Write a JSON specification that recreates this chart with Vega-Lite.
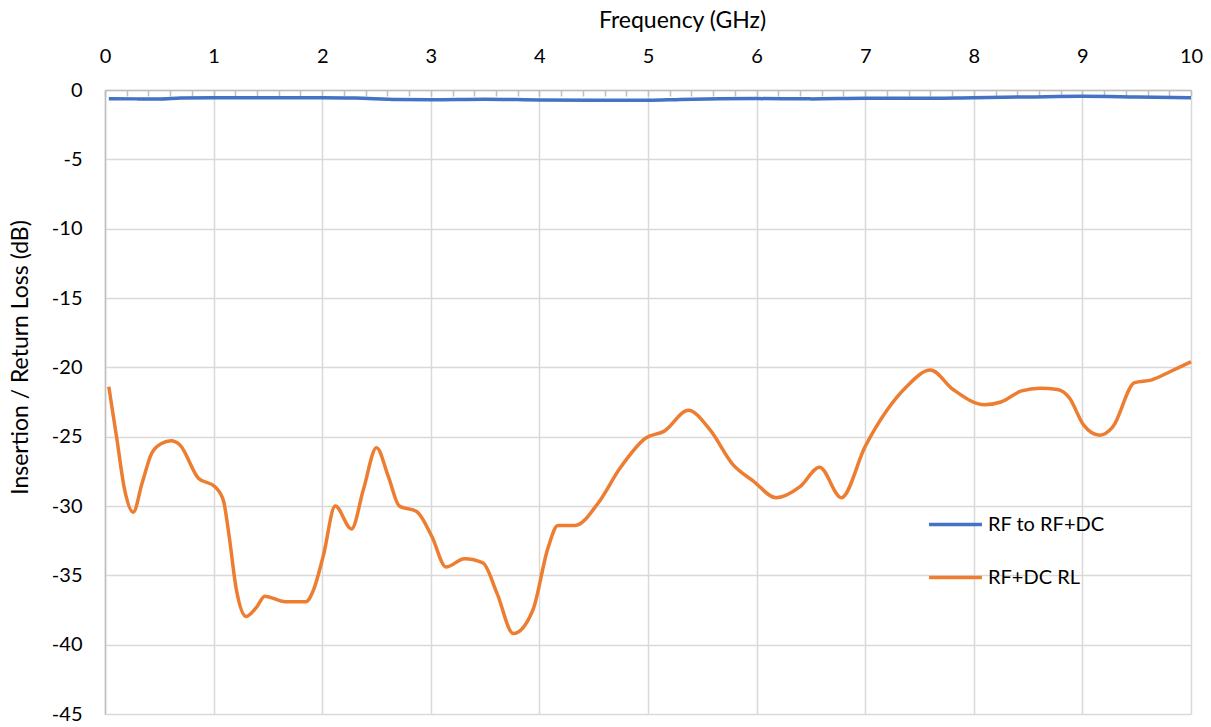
{
  "$schema": "https://vega.github.io/schema/vega-lite/v6.json",
  "width": 1086,
  "height": 624,
  "autosize": {"type": "none"},
  "padding": {"left": 105, "top": 90, "right": 20, "bottom": 13},
  "background": "white",
  "config": {
    "font": "Lato",
    "view": {"stroke": null}
  },
  "data": {
    "values": [
      {"f": 0.035, "v": -0.63, "s": "RF to RF+DC"},
      {"f": 0.3, "v": -0.64, "s": "RF to RF+DC"},
      {"f": 0.5, "v": -0.64, "s": "RF to RF+DC"},
      {"f": 0.7, "v": -0.57, "s": "RF to RF+DC"},
      {"f": 1.0, "v": -0.55, "s": "RF to RF+DC"},
      {"f": 1.5, "v": -0.56, "s": "RF to RF+DC"},
      {"f": 2.0, "v": -0.55, "s": "RF to RF+DC"},
      {"f": 2.3, "v": -0.58, "s": "RF to RF+DC"},
      {"f": 2.7, "v": -0.69, "s": "RF to RF+DC"},
      {"f": 3.0, "v": -0.7, "s": "RF to RF+DC"},
      {"f": 3.5, "v": -0.66, "s": "RF to RF+DC"},
      {"f": 4.0, "v": -0.72, "s": "RF to RF+DC"},
      {"f": 4.5, "v": -0.74, "s": "RF to RF+DC"},
      {"f": 5.0, "v": -0.74, "s": "RF to RF+DC"},
      {"f": 5.3, "v": -0.68, "s": "RF to RF+DC"},
      {"f": 6.0, "v": -0.62, "s": "RF to RF+DC"},
      {"f": 6.5, "v": -0.64, "s": "RF to RF+DC"},
      {"f": 7.0, "v": -0.6, "s": "RF to RF+DC"},
      {"f": 7.5, "v": -0.6, "s": "RF to RF+DC"},
      {"f": 8.0, "v": -0.55, "s": "RF to RF+DC"},
      {"f": 8.5, "v": -0.5, "s": "RF to RF+DC"},
      {"f": 9.0, "v": -0.45, "s": "RF to RF+DC"},
      {"f": 9.5, "v": -0.5, "s": "RF to RF+DC"},
      {"f": 10.0, "v": -0.56, "s": "RF to RF+DC"},
      {"f": 0.035, "v": -21.4, "s": "RF+DC RL"},
      {"f": 0.11, "v": -25.2, "s": "RF+DC RL"},
      {"f": 0.18, "v": -28.8, "s": "RF+DC RL"},
      {"f": 0.26, "v": -30.45, "s": "RF+DC RL"},
      {"f": 0.34, "v": -28.4, "s": "RF+DC RL"},
      {"f": 0.43, "v": -26.2, "s": "RF+DC RL"},
      {"f": 0.52, "v": -25.5, "s": "RF+DC RL"},
      {"f": 0.61, "v": -25.3, "s": "RF+DC RL"},
      {"f": 0.69, "v": -25.6, "s": "RF+DC RL"},
      {"f": 0.86, "v": -28.0, "s": "RF+DC RL"},
      {"f": 1.01, "v": -28.6, "s": "RF+DC RL"},
      {"f": 1.09, "v": -29.6, "s": "RF+DC RL"},
      {"f": 1.14, "v": -32.0, "s": "RF+DC RL"},
      {"f": 1.21, "v": -36.05, "s": "RF+DC RL"},
      {"f": 1.3, "v": -37.97, "s": "RF+DC RL"},
      {"f": 1.4, "v": -37.25, "s": "RF+DC RL"},
      {"f": 1.47, "v": -36.5, "s": "RF+DC RL"},
      {"f": 1.66, "v": -36.9, "s": "RF+DC RL"},
      {"f": 1.85, "v": -36.9, "s": "RF+DC RL"},
      {"f": 1.92, "v": -36.05, "s": "RF+DC RL"},
      {"f": 2.01, "v": -33.6, "s": "RF+DC RL"},
      {"f": 2.12, "v": -30.0, "s": "RF+DC RL"},
      {"f": 2.27, "v": -31.65, "s": "RF+DC RL"},
      {"f": 2.38, "v": -28.8, "s": "RF+DC RL"},
      {"f": 2.5, "v": -25.8, "s": "RF+DC RL"},
      {"f": 2.61, "v": -27.9, "s": "RF+DC RL"},
      {"f": 2.71, "v": -30.0, "s": "RF+DC RL"},
      {"f": 2.87, "v": -30.4, "s": "RF+DC RL"},
      {"f": 3.01, "v": -32.2, "s": "RF+DC RL"},
      {"f": 3.14, "v": -34.4, "s": "RF+DC RL"},
      {"f": 3.31, "v": -33.8, "s": "RF+DC RL"},
      {"f": 3.48, "v": -34.1, "s": "RF+DC RL"},
      {"f": 3.61, "v": -36.3, "s": "RF+DC RL"},
      {"f": 3.76, "v": -39.2, "s": "RF+DC RL"},
      {"f": 3.94, "v": -37.5, "s": "RF+DC RL"},
      {"f": 4.08, "v": -33.0, "s": "RF+DC RL"},
      {"f": 4.17, "v": -31.4, "s": "RF+DC RL"},
      {"f": 4.33, "v": -31.4, "s": "RF+DC RL"},
      {"f": 4.54, "v": -29.8, "s": "RF+DC RL"},
      {"f": 4.74, "v": -27.3, "s": "RF+DC RL"},
      {"f": 4.98, "v": -25.1, "s": "RF+DC RL"},
      {"f": 5.15, "v": -24.6, "s": "RF+DC RL"},
      {"f": 5.37, "v": -23.1, "s": "RF+DC RL"},
      {"f": 5.57, "v": -24.5, "s": "RF+DC RL"},
      {"f": 5.78, "v": -27.0, "s": "RF+DC RL"},
      {"f": 5.97, "v": -28.2, "s": "RF+DC RL"},
      {"f": 6.18, "v": -29.4, "s": "RF+DC RL"},
      {"f": 6.4, "v": -28.6, "s": "RF+DC RL"},
      {"f": 6.58, "v": -27.2, "s": "RF+DC RL"},
      {"f": 6.78, "v": -29.4, "s": "RF+DC RL"},
      {"f": 7.0, "v": -25.7, "s": "RF+DC RL"},
      {"f": 7.2, "v": -23.1, "s": "RF+DC RL"},
      {"f": 7.38, "v": -21.4, "s": "RF+DC RL"},
      {"f": 7.6, "v": -20.2, "s": "RF+DC RL"},
      {"f": 7.81, "v": -21.6, "s": "RF+DC RL"},
      {"f": 8.1, "v": -22.7, "s": "RF+DC RL"},
      {"f": 8.25, "v": -22.5, "s": "RF+DC RL"},
      {"f": 8.44, "v": -21.7, "s": "RF+DC RL"},
      {"f": 8.61, "v": -21.5, "s": "RF+DC RL"},
      {"f": 8.77, "v": -21.6, "s": "RF+DC RL"},
      {"f": 8.88, "v": -22.2, "s": "RF+DC RL"},
      {"f": 9.01, "v": -24.15, "s": "RF+DC RL"},
      {"f": 9.16, "v": -24.9, "s": "RF+DC RL"},
      {"f": 9.28, "v": -24.3, "s": "RF+DC RL"},
      {"f": 9.48, "v": -21.1, "s": "RF+DC RL"},
      {"f": 9.64, "v": -20.9, "s": "RF+DC RL"},
      {"f": 9.81, "v": -20.3, "s": "RF+DC RL"},
      {"f": 10.0, "v": -19.6, "s": "RF+DC RL"}
    ]
  },
  "mark": {"type": "line", "interpolate": "monotone", "strokeWidth": 3.5},
  "encoding": {
    "x": {
      "field": "f",
      "type": "quantitative",
      "scale": {"domain": [0, 10], "nice": false, "zero": false},
      "axis": {
        "orient": "top",
        "title": "Frequency (GHz)",
        "titleFontSize": 23,
        "titleFontWeight": "normal",
        "titleColor": "#000000",
        "titleX": 577,
        "titleY": -70,
        "titleBaseline": "middle",
        "values": [0,0.2,0.4,0.6,0.8,1,1.2,1.4,1.6,1.8,2,2.2,2.4,2.6,2.8,3,3.2,3.4,3.6,3.8,4,4.2,4.4,4.6,4.8,5,5.2,5.4,5.6,5.8,6,6.2,6.4,6.6,6.8,7,7.2,7.4,7.6,7.8,8,8.2,8.4,8.6,8.8,9,9.2,9.4,9.6,9.8,10],
        "labelExpr": "abs(datum.value - round(datum.value)) < 0.001 ? '' + round(datum.value) : ''",
        "labelFontSize": 20,
        "labelColor": "#000000",
        "labelPadding": 30,
        "labelFlush": false,
        "labelOverlap": false,
        "ticks": true,
        "tickSize": -6,
        "tickColor": "#bfbfbf",
        "tickWidth": 1.5,
        "domainColor": "#bfbfbf",
        "domainWidth": 1.5,
        "grid": true,
        "gridColor": "#d9d9d9",
        "gridWidth": 1.5,
        "gridOpacity": {"condition": {"test": "abs(datum.value - round(datum.value)) < 0.001", "value": 1}, "value": 0}
      }
    },
    "y": {
      "field": "v",
      "type": "quantitative",
      "scale": {"domain": [-45, 0], "nice": false},
      "axis": {
        "title": "Insertion / Return Loss (dB)",
        "titleFontSize": 23,
        "titleFontWeight": "normal",
        "titleColor": "#000000",
        "titleAngle": -90,
        "titleX": -85,
        "titleY": 267,
        "titleBaseline": "middle",
        "titleAlign": "center",
        "values": [0,-5,-10,-15,-20,-25,-30,-35,-40,-45],
        "labelExpr": "datum.value < 0 ? '-' + abs(datum.value) : '' + datum.value",
        "labelFontSize": 20,
        "labelColor": "#000000",
        "labelPadding": 23,
        "ticks": false,
        "domainColor": "#bfbfbf",
        "domainWidth": 1.5,
        "grid": true,
        "gridColor": "#d9d9d9",
        "gridWidth": 1.5
      }
    },
    "color": {
      "field": "s",
      "type": "nominal",
      "scale": {"domain": ["RF to RF+DC", "RF+DC RL"], "range": ["#4472C4", "#ED7D31"]},
      "legend": {
        "title": null,
        "orient": "none",
        "legendX": 822,
        "legendY": 406,
        "symbolType": "stroke",
        "symbolSize": 2800,
        "symbolStrokeWidth": 3.5,
        "labelFontSize": 20,
        "labelColor": "#000000",
        "labelOffset": 4,
        "rowPadding": 14
      }
    }
  }
}
